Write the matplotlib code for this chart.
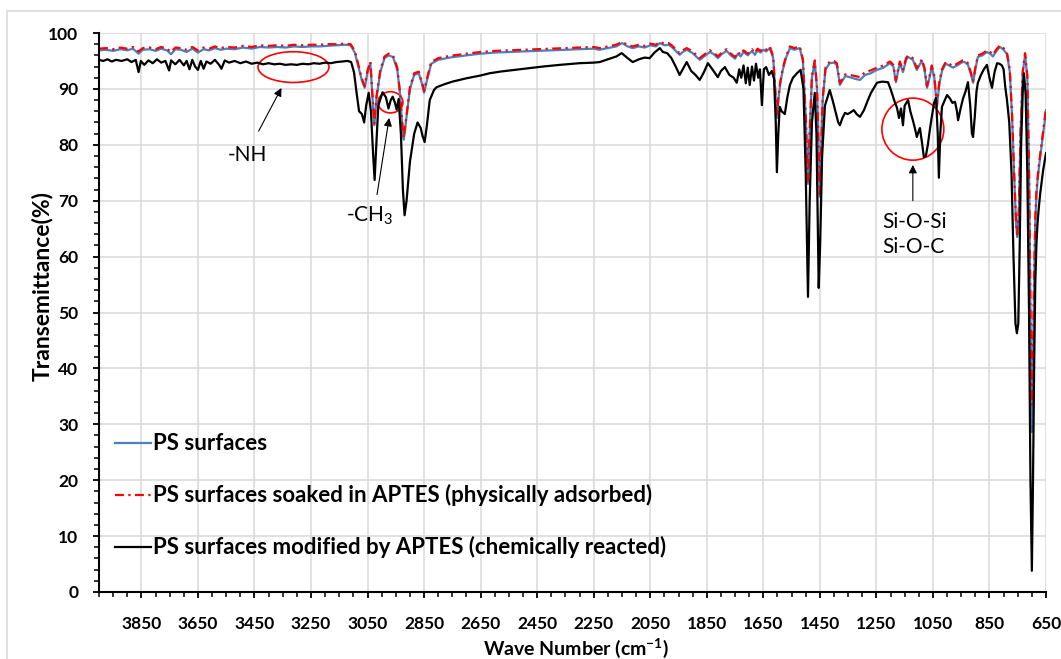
import numpy as np
import matplotlib.pyplot as plt
from matplotlib.patches import Ellipse, Rectangle
from matplotlib.ticker import MultipleLocator

plt.rcParams['font.family'] = ['Lato', 'DejaVu Sans']

# wave numbers shared by the PS and soaked spectra
wn_ps = [4000, 3975, 3950, 3925, 3900, 3880, 3860, 3845, 3820, 3800,
         3780, 3760, 3745, 3730, 3710, 3690, 3670, 3650, 3630, 3610,
         3590, 3570, 3550, 3520, 3490, 3460, 3430, 3400, 3370, 3340,
         3310, 3280, 3250, 3220, 3190, 3160, 3130, 3110, 3095, 3080,
         3070, 3060, 3050, 3040, 3032, 3026, 3018, 3005, 2990, 2975,
         2960, 2945, 2935, 2928, 2922, 2912, 2900, 2885, 2869, 2858,
         2850, 2840, 2825, 2800, 2760, 2700, 2650, 2600, 2550, 2500,
         2450, 2400, 2350, 2300, 2250, 2230, 2200, 2170, 2150, 2130,
         2112, 2090, 2070, 2050, 2030, 2016, 2000, 1985, 1974, 1960,
         1946, 1935, 1921, 1900, 1875, 1860, 1839, 1825, 1811, 1795,
         1780, 1765, 1750, 1740, 1730, 1720, 1705, 1690, 1680, 1670,
         1660, 1650, 1640, 1627, 1615, 1607, 1602, 1597, 1590, 1581,
         1570, 1556, 1540, 1521, 1510, 1500, 1492, 1486, 1478, 1468,
         1460, 1454, 1450, 1446, 1440, 1430, 1415, 1400, 1390, 1379,
         1370, 1360, 1344, 1325, 1308, 1290, 1270, 1248, 1225, 1202,
         1190, 1181, 1172, 1167, 1156, 1145, 1138, 1121, 1107, 1095,
         1089, 1080, 1071, 1062, 1054, 1045, 1036, 1027, 1018, 1005,
         997, 979, 961, 945, 937, 926, 915, 908, 900, 891,
         875, 859, 845, 838, 825, 813, 800, 788, 778, 770,
         763, 756, 752, 746, 740, 732, 724, 716, 710, 705,
         700, 696, 692, 688, 684, 680, 675, 670, 665, 660,
         655, 650]

t_ps = [96.9, 97.0, 96.8, 97.1, 96.9, 97.2, 96.3, 97.0, 97.1, 96.8,
        97.2, 96.9, 96.2, 97.1, 97.0, 96.6, 97.2, 96.5, 97.1, 96.9,
        97.3, 97.0, 97.2, 97.1, 97.4, 97.2, 97.5, 97.4, 97.5, 97.4,
        97.6, 97.5, 97.6, 97.6, 97.7, 97.8, 97.9, 97.8, 96.5, 93.5,
        91.5, 90.2, 93.0, 94.6, 88.0, 83.5, 88.5, 93.0, 95.5, 96.0,
        95.7, 93.5, 89.0, 84.0, 80.9, 85.0, 90.0, 92.5, 92.8, 91.0,
        89.3, 91.5, 94.5, 95.2, 95.6, 96.0, 96.3, 96.5, 96.6, 96.7,
        96.8, 96.9, 97.0, 97.1, 97.2, 97.0, 97.3, 97.6, 98.2, 97.6,
        97.3, 97.6, 97.4, 97.8, 97.6, 98.2, 97.8, 97.9, 97.5, 96.8,
        96.1, 96.6, 97.0, 96.4, 95.2, 95.8, 96.6, 96.2, 95.5, 96.3,
        96.8, 96.0, 95.4, 96.3, 95.8, 96.6, 96.0, 96.8, 96.1, 96.9,
        96.5, 97.0, 96.7, 97.3, 95.5, 89.0, 84.8, 88.0, 91.0, 93.4,
        95.5, 97.3, 97.0, 97.3, 95.0, 85.0, 73.0, 82.0, 92.0, 94.8,
        90.0, 78.0, 70.7, 78.0, 88.0, 93.5, 94.6, 94.7, 94.3, 90.7,
        91.5, 92.3, 92.1, 91.8, 91.6, 92.5, 92.8, 93.4, 93.8, 94.6,
        94.0, 91.2, 93.5, 94.6, 93.0, 95.2, 95.7, 95.2, 93.4, 94.5,
        95.0, 93.5, 90.2, 92.0, 93.9, 92.0, 86.8, 91.0, 93.2, 94.5,
        94.3, 93.8, 94.3, 94.8, 94.8, 94.3, 92.5, 91.1, 93.5, 95.7,
        96.0, 96.6, 96.2, 95.8, 96.8, 97.5, 97.0, 96.2, 93.0, 85.0,
        75.0, 66.0, 63.5, 68.0, 82.0, 93.0, 96.1, 92.0, 75.0, 50.0,
        28.6, 40.0, 55.0, 66.0, 71.0, 73.5, 76.0, 78.0, 80.0, 82.0,
        84.0, 86.2]

t_soak = [97.2, 97.3, 97.1, 97.4, 97.2, 97.5, 96.7, 97.3, 97.4, 97.1,
          97.5, 97.2, 96.6, 97.4, 97.3, 97.0, 97.5, 96.9, 97.4, 97.2,
          97.6, 97.3, 97.5, 97.4, 97.7, 97.5, 97.8, 97.7, 97.8, 97.7,
          97.9, 97.8, 97.9, 97.9, 98.0, 98.0, 98.1, 98.0, 96.8, 93.8,
          91.8, 90.5, 93.3, 94.9, 88.3, 83.8, 88.8, 93.3, 95.8, 96.3,
          96.0, 93.8, 89.3, 84.3, 81.2, 85.3, 90.3, 92.8, 93.1, 91.3,
          89.6, 91.8, 94.8, 95.5, 95.9, 96.3, 96.6, 96.8, 96.9, 97.0,
          97.1, 97.2, 97.3, 97.4, 97.5, 97.3, 97.6, 97.9, 98.4, 97.9,
          97.6, 97.9, 97.7, 98.1, 97.9, 98.4, 98.1, 98.2, 97.8, 97.1,
          96.4, 96.9, 97.3, 96.7, 95.5, 96.1, 96.9, 96.5, 95.8, 96.6,
          97.1, 96.3, 95.7, 96.6, 96.1, 96.9, 96.3, 97.1, 96.4, 97.2,
          96.8, 97.3, 97.0, 97.6, 95.8, 89.3, 85.1, 88.3, 91.3, 93.7,
          95.8, 97.6, 97.3, 97.6, 95.3, 85.3, 73.5, 82.3, 92.3, 95.1,
          90.3, 78.3, 71.2, 78.3, 88.3, 93.8, 94.9, 95.0, 94.6, 91.0,
          91.8, 92.6, 92.5, 92.3, 92.1, 93.0, 93.3, 93.8, 94.2, 94.9,
          94.3, 91.5, 93.8, 94.9, 93.3, 95.5, 96.0, 95.5, 93.7, 94.8,
          95.3, 93.8, 90.5, 92.3, 94.2, 92.3, 87.1, 91.3, 93.5, 94.8,
          94.6, 94.1, 94.6, 95.1, 95.1, 94.6, 92.8, 91.4, 93.8, 96.0,
          96.3, 96.9, 96.5, 96.1, 97.1, 97.8, 97.3, 96.5, 93.3, 85.3,
          75.3, 66.3, 64.0, 68.3, 82.3, 93.3, 96.4, 92.3, 75.3, 50.5,
          33.5, 42.0, 56.0, 66.5, 71.5, 74.0, 76.5, 78.5, 80.5, 82.5,
          84.5, 86.5]

wn_mod = [4000, 3985, 3970, 3955, 3940, 3920, 3900, 3885, 3870, 3860,
          3852, 3840, 3825, 3810, 3795, 3780, 3765, 3752, 3745, 3730,
          3715, 3700, 3690, 3680, 3670, 3660, 3650, 3640, 3630, 3620,
          3605, 3590, 3575, 3567, 3555, 3540, 3520, 3500, 3480, 3460,
          3440, 3420, 3400, 3380, 3360, 3340, 3320, 3300, 3280, 3260,
          3240, 3220, 3200, 3180, 3160, 3140, 3120, 3108, 3098, 3088,
          3080, 3070, 3062, 3055, 3046, 3038, 3030, 3025, 3020, 3012,
          2997, 2985, 2976, 2968, 2961, 2953, 2947, 2940, 2932, 2925,
          2919, 2912, 2900, 2885, 2873, 2862, 2855, 2848, 2840, 2830,
          2815, 2806, 2780, 2750, 2700, 2650, 2618, 2580, 2530, 2480,
          2430, 2370, 2300, 2250, 2229, 2200, 2170, 2151, 2130, 2112,
          2090, 2070, 2052, 2035, 2016, 2005, 1990, 1975, 1960, 1946,
          1935, 1921, 1905, 1890, 1875, 1860, 1846, 1830, 1811, 1800,
          1786, 1770, 1755, 1744, 1735, 1728, 1720, 1712, 1705, 1698,
          1690, 1683, 1676, 1668, 1662, 1655, 1648, 1640, 1630, 1620,
          1612, 1606, 1602, 1597, 1592, 1585, 1574, 1565, 1556, 1545,
          1531, 1518, 1508, 1500, 1492, 1486, 1478, 1468, 1462, 1457,
          1454, 1449, 1442, 1432, 1415, 1404, 1395, 1385, 1379, 1370,
          1361, 1352, 1344, 1330, 1320, 1308, 1294, 1280, 1269, 1248,
          1230, 1209, 1200, 1191, 1184, 1177, 1170, 1163, 1156, 1150,
          1144, 1138, 1130, 1121, 1114, 1107, 1100, 1096, 1089, 1082,
          1075, 1068, 1060, 1054, 1046, 1039, 1033, 1029, 1024, 1018,
          1008, 1000, 990, 981, 972, 965, 961, 952, 944, 935,
          926, 918, 912, 908, 902, 896, 891, 880, 870, 859,
          850, 841, 832, 823, 815, 806, 800, 794, 788, 780,
          772, 765, 758, 753, 748, 743, 738, 732, 728, 722,
          716, 710, 705, 700, 696, 692, 688, 684, 680, 675,
          670, 665, 660, 655, 650]

t_mod = [95.2, 95.0, 95.3, 94.9, 95.2, 95.0, 95.3, 94.8, 95.2, 93.0,
         95.0, 94.3, 95.1, 94.6, 95.3, 94.7, 95.0, 93.3, 95.1, 94.4,
         95.2, 94.2, 95.0, 93.5, 95.2, 94.0, 93.4, 95.0, 93.6, 94.9,
         94.5, 95.2, 94.3, 93.6, 95.1, 94.7, 95.0, 94.6, 94.9, 94.5,
         94.7, 94.4, 94.6, 94.4, 94.5, 94.3, 94.4, 94.3, 94.5, 94.4,
         94.6, 94.5, 94.7, 94.6, 94.8, 94.9, 95.0, 94.8, 93.0, 89.0,
         86.0, 85.5, 84.0, 87.0, 89.3, 86.0, 78.0, 73.7, 79.0, 87.0,
         89.4, 88.5, 86.5, 88.0, 88.6, 87.5, 86.3, 88.2, 82.0, 72.0,
         67.4, 70.0, 77.0, 82.0, 84.0, 83.0, 81.5, 80.5, 83.5, 88.0,
         89.8, 90.3, 90.8, 91.3, 91.9, 92.4, 92.8, 93.1, 93.4, 93.7,
         94.0, 94.3, 94.6, 94.7, 94.8, 95.3, 95.8, 96.4, 95.5, 94.8,
         95.3, 95.6, 95.5, 96.5, 97.3, 96.6, 96.4, 95.5, 94.0, 92.5,
         93.5, 94.8, 93.2, 92.5, 91.6, 93.0, 94.6, 93.5, 92.1, 93.2,
         93.9, 92.5, 92.0, 91.1, 93.5, 92.0, 94.2, 91.0, 93.8, 90.7,
         94.0, 91.5, 94.5, 92.0, 93.5, 87.1, 93.5, 93.9, 92.5, 93.2,
         91.8, 84.0, 75.1, 82.0, 86.8, 86.0, 85.5, 88.5, 90.7, 92.0,
         92.8, 93.4, 90.0, 75.0, 52.8, 70.0, 84.0, 89.3, 82.0, 64.0,
         54.4, 62.0, 78.0, 87.0, 89.8, 87.8, 86.0, 84.0, 83.5, 84.8,
         85.7, 85.5, 85.7, 86.2, 85.5, 85.0, 86.2, 88.0, 89.3, 91.1,
         91.3, 91.2, 90.0, 88.6, 87.5, 86.6, 84.8, 86.5, 83.5, 87.0,
         87.5, 88.0, 86.0, 84.4, 83.0, 81.4, 82.5, 83.0, 80.5, 77.8,
         78.0, 80.0, 83.0, 85.0, 87.5, 88.4, 82.0, 74.1, 82.0, 86.8,
         88.0, 88.9, 88.3, 87.5, 87.7, 86.0, 84.4, 86.5, 88.2, 89.5,
         91.2, 87.0, 82.0, 81.4, 85.0, 89.5, 91.1, 92.5, 93.5, 94.3,
         92.0, 90.2, 93.0, 94.6, 94.5, 94.2, 93.5, 90.3, 88.0, 84.0,
         75.0, 60.0, 48.0, 46.3, 48.0, 62.0, 80.0, 90.0, 92.8, 89.0,
         75.0, 50.0, 20.0, 3.8, 20.0, 40.0, 55.0, 62.0, 66.0, 69.0,
         71.5, 73.5, 75.5, 77.0, 78.5]

labels = ['PS surfaces',
          'PS surfaces soaked in APTES (physically adsorbed)',
          'PS surfaces modified by APTES (chemically reacted)']

fig = plt.figure(figsize=(10.61, 6.59), dpi=100)
# light chart-area border (cropped at right and bottom)
fig.patches.append(Rectangle((7 / 1061, -0.1), 1.2, (659 - 11) / 659 + 0.1,
                             transform=fig.transFigure, fill=False,
                             edgecolor='#d9d9d9', lw=1.2))
ax = fig.add_axes([99 / 1061, 1 - 592 / 659, (1046 - 99) / 1061, (592 - 33) / 659])

ax.plot(wn_ps, t_ps, color='#4a7fc1', lw=1.6, label=labels[0])
ax.plot(wn_ps, t_soak, color='#ff0000', lw=1.6, ls=(0, (4, 2, 1, 2)), label=labels[1])
ax.plot(wn_mod, t_mod, color='black', lw=1.6, label=labels[2])

ax.set_xlim(4000, 650)
ax.set_ylim(0, 100)
ax.set_xticks(np.arange(650, 4000, 200))
ax.xaxis.set_minor_locator(MultipleLocator(50))
ax.yaxis.set_major_locator(MultipleLocator(10))
ax.yaxis.set_minor_locator(MultipleLocator(2))
ax.grid(True, which='major', color='#d9d9d9', lw=1.1)
ax.set_axisbelow(True)
for s in ['top', 'right']:
    ax.spines[s].set_visible(False)
for s in ['left', 'bottom']:
    ax.spines[s].set_linewidth(1.5)
ax.tick_params(which='major', direction='out', length=4, width=1.3)
ax.tick_params(which='minor', direction='out', length=3.5, width=1.1)
ax.tick_params(axis='x', pad=13)
ax.tick_params(axis='y', pad=11)
for lab in ax.get_xticklabels() + ax.get_yticklabels():
    lab.set_fontweight('bold')
    lab.set_fontsize(12.5)

fig.text(42 / 1061, 1 - 286 / 659, 'Transemittance(%)', rotation=90,
         ha='center', va='center', fontsize=16.5, fontweight='bold')
fig.text(576 / 1061, 1 - 648 / 659, r'Wave Number (cm$^{\mathregular{-1}}$)',
         ha='center', va='center', fontsize=14, fontweight='bold')

ax.legend(loc='lower left', bbox_to_anchor=(0.017, 0.06), frameon=False,
          borderpad=0, borderaxespad=0, handlelength=1.6, handletextpad=0.12,
          labelspacing=1.35, prop={'weight': 'bold', 'size': 16})

# annotations
ell_kw = dict(fill=False, edgecolor='red', lw=1.2)
ax.add_patch(Ellipse((3312, 93.9), 251, 5.5, **ell_kw))
ax.add_patch(Ellipse((2969, 87.6), 88, 3.8, **ell_kw))
ax.add_patch(Ellipse((1121, 82.8), 219, 11.1, **ell_kw))

arr = dict(arrowstyle='-|>', color='black', lw=0.8, mutation_scale=12)
ax.annotate('', xy=(3350, 90.6), xytext=(3440, 82.0), arrowprops=arr)
ax.annotate('', xy=(2972, 85.3), xytext=(3018, 70.6), arrowprops=arr)
ax.annotate('', xy=(1121, 76.9), xytext=(1121, 69.5), arrowprops=arr)

ax.text(3475, 78.2, '-NH', ha='center', va='center', fontsize=15)
ax.text(3043, 67.3, r'-CH$_{\mathregular{3}}$', ha='center', va='center', fontsize=15)
ax.text(1230, 64.0, 'Si-O-Si\nSi-O-C', ha='left', va='center', fontsize=15,
        linespacing=1.3)

fig.savefig('out.png', dpi=100)
